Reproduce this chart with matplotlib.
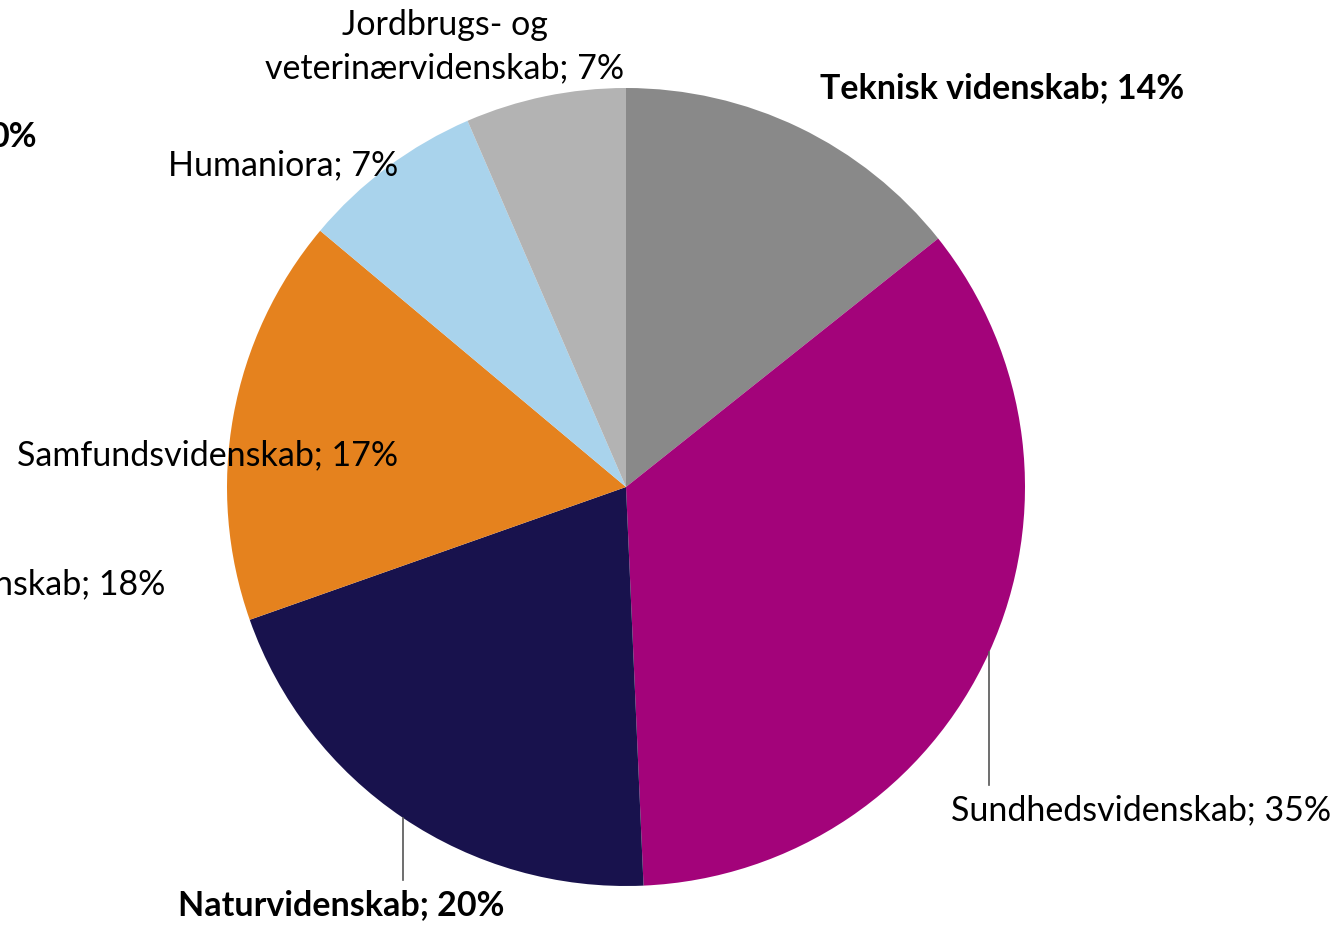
import matplotlib
matplotlib.use('Agg')
import matplotlib.pyplot as plt

# shares per field (degrees -> %)
fields = ['Teknisk videnskab', 'Sundhedsvidenskab', 'Naturvidenskab',
          'Samfundsvidenskab', 'Humaniora', 'Jordbrugs- og veterinærvidenskab']
shares = [14.3, 35.0, 20.3, 16.5, 7.4, 6.5]
shown = ['14%', '35%', '20%', '17%', '7%', '7%']
colors = ['#898989', '#A3037A', '#18124D', '#E5821E', '#A9D3EC', '#B3B3B3']

W, H = 1339, 925
plt.rcParams['font.family'] = ['Lato', 'DejaVu Sans']
fig = plt.figure(figsize=(W / 100, H / 100), dpi=100)
ax = fig.add_axes([0, 0, 1, 1])

ax.pie(shares, colors=colors, startangle=90, counterclock=False,
       center=(626, H - 487), radius=399, wedgeprops=dict(linewidth=0))
# pie() resets the limits, so set them afterwards
ax.set_xlim(0, W)
ax.set_ylim(0, H)
ax.set_aspect('equal')
ax.axis('off')

fs = 24.5
def lab(x, y, s, ha='center', bold=False):
    ax.text(x, H - y, s, ha=ha, va='center', fontsize=fs,
            fontweight='bold' if bold else 'normal', color='black')

lab(1002, 88, f'{fields[0]}; {shown[0]}', bold=True)
lab(1141, 810, f'{fields[1]}; {shown[1]}')
lab(341, 905, f'{fields[2]}; {shown[2]}', bold=True)
lab(208, 455, f'{fields[3]}; {shown[3]}')
lab(283, 165, f'{fields[4]}; {shown[4]}')
lab(445, 25, 'Jordbrugs- og')
lab(445, 68, f'veterinærvidenskab; {shown[5]}')

# fragments of labels from a neighbouring chart, cut by the left edge
lab(37, 137, '0%', ha='right', bold=True)
lab(165, 584, 'nskab; 18%', ha='right')

# leader lines
ax.plot([989, 989], [H - 652, H - 785], color='#555555', lw=1.2)
ax.plot([403, 403], [H - 818, H - 880], color='#555555', lw=1.2)

fig.savefig('out.png', dpi=100)
